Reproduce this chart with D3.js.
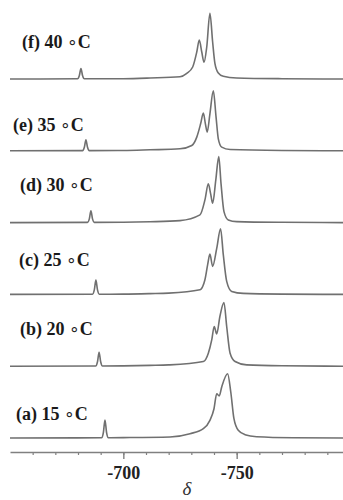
<!DOCTYPE html>
<html>
<head>
<meta charset="utf-8">
<script src="https://cdn.jsdelivr.net/npm/d3@7"></script>
<style>
  html, body { margin: 0; padding: 0; background: #fff; }
  svg { display: block; }
</style>
</head>
<body>
<svg id="chart" width="343" height="500"></svg>
<script>
// traces, bottom to top
const tags = ['a', 'b', 'c', 'd', 'e', 'f'];
const temps = [15, 20, 25, 30, 35, 40];

// [delta, intensity]
const specA = [[-650,0],[-690.4,0.3],[-691.2,5.5],[-691.9,18],[-692.6,5.5],[-693.4,0.3],[-700,0.4],[-720.6,1],[-729.4,4.3],[-735.3,9.3],[-738.2,17.7],[-740.0,29.3],[-741.2,44.3],[-742.3,42],[-743.4,51],[-746.0,64.3],[-747.4,46],[-748.8,19.3],[-750.7,7.7],[-753.7,3.3],[-758.8,1.3],[-775,0.3],[-800,0]];
const specB = [[-650,0],[-687.8,0.2],[-688.6,4.5],[-689.3,14],[-690.0,4.5],[-690.8,0.2],[-700,0.3],[-711.8,0.8],[-720,1.3],[-735.3,4.7],[-737.5,13],[-739.0,26.3],[-740.1,39.7],[-741.2,32.3],[-742.6,49.7],[-744.4,63.7],[-745.6,39.7],[-747.1,13],[-749.3,4.7],[-754.4,1.3],[-770,0.4],[-800,0]];
const specC = [[-650,0],[-686.4,0.2],[-687.2,4.5],[-687.9,14.3],[-688.6,4.5],[-689.4,0.2],[-700,0.3],[-711.8,0.8],[-720,1.3],[-733.8,4.7],[-736.0,14.7],[-737.2,29.7],[-738.2,40.3],[-739.4,28],[-741.2,46],[-742.9,65.7],[-744.1,39.7],[-745.6,13],[-747.8,3],[-752.9,1],[-770,0.3],[-800,0]];
const specD = [[-650,0],[-684.2,0.2],[-685.0,3.7],[-685.7,11.7],[-686.4,3.7],[-687.2,0.2],[-700,0.3],[-711.8,0.8],[-725,2],[-733.8,7.7],[-736.0,22.7],[-737.5,38.7],[-738.5,29],[-739.4,19.3],[-740.8,42.7],[-742.1,66],[-743.1,39],[-744.4,11],[-746.3,2.7],[-750,1],[-770,0.3],[-800,0]];
const specE = [[-650,0],[-682.0,0.2],[-682.8,3.5],[-683.5,11],[-684.2,3.5],[-685.0,0.2],[-700,0.3],[-711.8,1],[-725,2],[-730.2,5.3],[-732.4,13.7],[-734.1,27],[-735.3,37.7],[-736.2,27],[-737.0,18.7],[-738.2,37],[-739.7,60],[-740.9,34],[-741.9,12],[-743.4,3.7],[-747.1,1.3],[-770,0.3],[-800,0]];
const specF = [[-650,0],[-679.8,0.2],[-680.6,3.5],[-681.3,10.5],[-682.0,3.5],[-682.8,0.2],[-700,0.3],[-711.8,1],[-725,2.3],[-728,5.7],[-730.6,12],[-732.4,27],[-733.5,39],[-734.6,27],[-735.6,16.7],[-736.8,32],[-738.2,65.7],[-739.4,37],[-740.4,15.7],[-741.9,6],[-744.1,2.7],[-750,1],[-770,0.3],[-800,0]];

const spectra = [specA, specB, specC, specD, specE, specF];

const majorTicks = [-700, -750];
const minorTicks = d3.range(-660, -801, -10);

(function() {
  'use strict';

  let svg = d3.select('#chart');

  // delta axis runs high field to the right
  let x = d3.scaleLinear().domain([-650, -800]).range([10, 350]);
  // trace baselines stacked upward
  let offset = d3.scaleLinear().domain([0, 5]).range([438, 79]);
  let amp = d3.scaleLinear().domain([0, 100]).range([0, 100]);

  let line = d3.line()
    .x(d => x(d[0]))
    .curve(d3.curveMonotoneX);

  svg.selectAll('.trace')
    .data(spectra)
    .enter()
    .append('path')
    .attr('class', 'trace')
    .attr('fill', 'none')
    .attr('stroke', '#707070')
    .attr('stroke-width', 1.6)
    .attr('stroke-linejoin', 'round')
    .attr('d', (s, i) => line.y(d => offset(i) - amp(d[1]))(s));

  // labels
  let labelY = [420, 335, 266, 191, 131, 48];
  let labelX = [16, 20, 19, 20, 13, 22];
  let label = svg.selectAll('.lab')
    .data(tags)
    .enter()
    .append('text')
    .attr('class', 'lab')
    .attr('x', (d, i) => labelX[i])
    .attr('y', (d, i) => labelY[i])
    .style('font-family', '"Liberation Serif", "Times New Roman", serif')
    .style('font-weight', 'bold')
    .style('font-size', '18px')
    .style('fill', '#1a1a1a');
  label.append('tspan').text((d, i) => '(' + d + ') ' + temps[i] + ' ');
  label.append('tspan')
    .style('font-weight', 'normal')
    .style('font-family', '"DejaVu Sans", sans-serif')
    .style('font-size', '17px')
    .text('\u2218');
  label.append('tspan').text('C');

  // axis
  let axisY = 452;
  let minor = svg.append('g')
    .attr('transform', 'translate(0,' + axisY + ')')
    .call(d3.axisBottom(x).tickValues(minorTicks).tickSize(3).tickSizeOuter(0).tickFormat(''));
  minor.select('.domain').attr('stroke', '#808080').attr('stroke-width', 1.5);
  minor.selectAll('.tick line').attr('stroke', '#808080').attr('stroke-width', 1.2);

  let major = svg.append('g')
    .attr('transform', 'translate(0,' + axisY + ')')
    .attr('font-family', '"Liberation Serif", serif')
    .attr('font-weight', 'bold')
    .call(d3.axisBottom(x).tickValues(majorTicks).tickSize(7).tickFormat(d3.format('d')));
  major.attr('font-size', 18);
  major.select('.domain').remove();
  major.selectAll('.tick line').attr('stroke', '#808080').attr('stroke-width', 1.4);
  major.selectAll('.tick text')
    .attr('dy', null)
    .attr('y', 27)
    .attr('fill', '#222')
    .style('font-family', '"Liberation Serif", "Times New Roman", serif')
    .style('font-weight', 'bold')
    .style('font-size', '18px')
    .text(d => '-' + Math.abs(d));

  svg.append('text')
    .attr('x', x(-728))
    .attr('y', 495)
    .attr('text-anchor', 'middle')
    .style('font-family', '"Liberation Serif", "Times New Roman", serif')
    .style('font-style', 'italic')
    .style('font-size', '19px')
    .style('fill', '#333')
    .text('\u03b4');
})();
</script>
</body>
</html>
